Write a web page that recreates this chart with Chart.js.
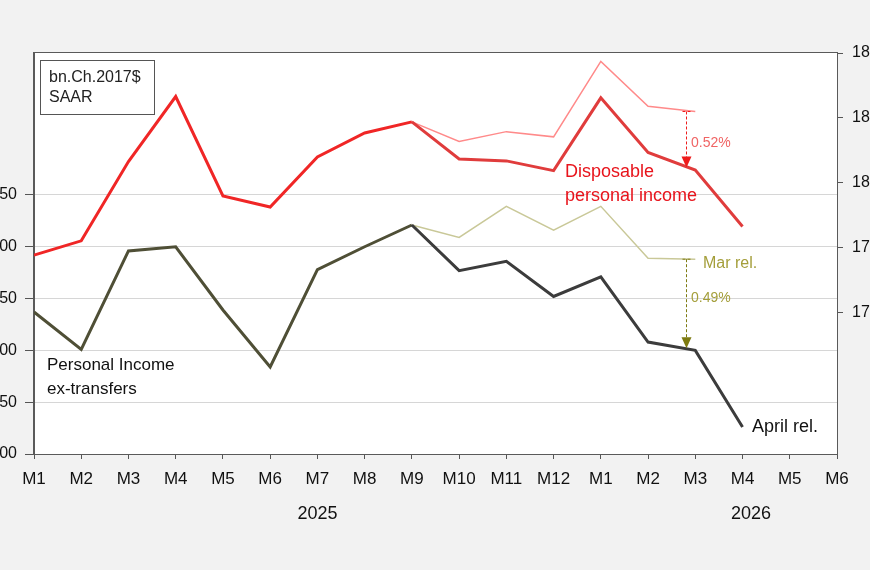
<!DOCTYPE html>
<html>
<head>
<meta charset="utf-8">
<script src="https://cdn.jsdelivr.net/npm/chart.js@4.4.1/dist/chart.umd.min.js"></script>
<style>
  html, body { margin: 0; padding: 0; background: #f2f2f2; overflow: hidden; }
  #frame { position: relative; width: 870px; height: 570px; overflow: hidden; }
  #wrap { position: absolute; left: -60px; top: 0; width: 990px; height: 570px; }
</style>
</head>
<body>
<div id="frame"><div id="wrap"><canvas id="incomeChart" width="990" height="570"></canvas></div></div>
<script>
// months Jan 2025 .. Jun 2026
const months = ['M1', 'M2', 'M3', 'M4', 'M5', 'M6', 'M7', 'M8', 'M9', 'M10', 'M11', 'M12',
                'M1', 'M2', 'M3', 'M4', 'M5', 'M6'];
const years = ['2025', '2026'];

// personal income ex-transfers, bn.Ch.2017$ SAAR (left axis)
const piAprRel = [17137, 17101, 17196, 17200, 17139, 17084, 17178, 17200, 17221, 17177, 17186, 17152,
                  17171, 17108, 17100, 17026, null, null];
const piMarRel = [null, null, null, null, null, null, null, null, 17221, 17209, 17239, 17216,
                  17239, 17189, 17188, null, null, null];

// disposable personal income, bn.Ch.2017$ SAAR (right axis)
const dpiAprRel = [17889, 17911, 18033, 18133, 17980, 17963, 18040, 18077, 18094, 18037, 18034, 18019,
                   18131, 18047, 18020, 17933, null, null];
const dpiMarRel = [null, null, null, null, null, null, null, null, 18094, 18064, 18079, 18071,
                   18187, 18118, 18110, null, null, null];

const leftTicks = [17000, 17050, 17100, 17150, 17200, 17250];
const rightTicks = [17800, 17900, 18000, 18100, 18200];

const FONT = "'Liberation Sans', Arial, sans-serif";
const OFF = 60; // canvas sits 60px left of the window

function early(ctx, a, b) {
    return ctx.p0DataIndex < 8 ? a : b;
}

// dashed revision arrow between two values of one axis
function drawArrow(ctx, x, y0, y1, color) {
    ctx.save();
    ctx.strokeStyle = color;
    ctx.fillStyle = color;
    ctx.lineWidth = 1;
    ctx.setLineDash([3, 2]);
    ctx.beginPath();
    ctx.moveTo(x - 4, y0);
    ctx.lineTo(x + 4, y0);
    ctx.moveTo(x, y0);
    ctx.lineTo(x, y1 - 9);
    ctx.stroke();
    ctx.setLineDash([]);
    ctx.beginPath();
    ctx.moveTo(x - 5, y1 - 11);
    ctx.lineTo(x + 5, y1 - 11);
    ctx.lineTo(x, y1);
    ctx.closePath();
    ctx.fill();
    ctx.restore();
}

function text(ctx, str, x, y, color, size) {
    ctx.fillStyle = color;
    ctx.font = size + 'px ' + FONT;
    ctx.fillText(str, x + OFF, y);
}

const decorations = {
    id: 'decorations',
    beforeDraw(chart) {
        const a = chart.chartArea, ctx = chart.ctx;
        ctx.save();
        ctx.fillStyle = '#ffffff';
        ctx.fillRect(a.left, a.top, a.right - a.left, a.bottom - a.top);
        ctx.restore();
    },
    afterDraw(chart) {
        const a = chart.chartArea, ctx = chart.ctx;
        const x = chart.scales.x, yl = chart.scales.yLeft, yr = chart.scales.yRight;
        ctx.save();
        // plot frame
        ctx.strokeStyle = '#5a5a5a';
        ctx.lineWidth = 1;
        ctx.strokeRect(Math.round(a.left) - 0.5, Math.round(a.top) - 0.5,
                       Math.round(a.right - a.left) + 1, Math.round(a.bottom - a.top) + 1);

        // year labels
        ctx.fillStyle = '#111';
        ctx.font = '18px ' + FONT;
        ctx.textAlign = 'center';
        ctx.textBaseline = 'middle';
        ctx.fillText(years[0], (x.getPixelForValue(0) + x.getPixelForValue(12)) / 2, 514);
        ctx.fillText(years[1], x.getPixelForValue(15.18), 514);

        // unit box
        ctx.textAlign = 'left';
        ctx.textBaseline = 'alphabetic';
        ctx.strokeStyle = '#555';
        ctx.strokeRect(40.5 + OFF, 60.5, 114, 54);
        text(ctx, 'bn.Ch.2017$', 49, 82, '#222', 16);
        text(ctx, 'SAAR', 49, 102, '#222', 16);

        // revision arrows
        const ax = Math.round(x.getPixelForValue(13.8)) + 0.5;
        drawArrow(ctx, ax, yr.getPixelForValue(18110), yr.getPixelForValue(18024), '#ee1c1c');
        drawArrow(ctx, ax, yl.getPixelForValue(17188), yl.getPixelForValue(17102), '#7d7a10');

        // series labels
        text(ctx, '0.52%', 691, 146.5, '#f06464', 14);
        text(ctx, 'Disposable', 565, 177, '#e8141c', 18);
        text(ctx, 'personal income', 565, 201, '#e8141c', 18);
        text(ctx, 'Mar rel.', 703, 268, '#a49e3a', 16);
        text(ctx, '0.49%', 691, 301.5, '#a49e3a', 14);
        text(ctx, 'Personal Income', 47, 370, '#111', 17);
        text(ctx, 'ex-transfers', 47, 394, '#111', 17);
        text(ctx, 'April rel.', 752, 432, '#111', 18);
        ctx.restore();
    }
};

new Chart(document.getElementById('incomeChart'), {
    type: 'line',
    data: {
        labels: months,
        datasets: [{
            label: 'Disposable personal income, April rel.',
            data: dpiAprRel,
            yAxisID: 'yRight',
            borderColor: '#e03c3c',
            borderWidth: 3,
            segment: { borderColor: ctx => early(ctx, '#f02626', '#e03c3c') },
            pointRadius: 0,
            order: 1
        }, {
            label: 'Personal income ex-transfers, April rel.',
            data: piAprRel,
            yAxisID: 'yLeft',
            borderColor: '#3c3c3c',
            borderWidth: 3,
            segment: { borderColor: ctx => early(ctx, '#4f4f36', '#3c3c3c') },
            pointRadius: 0,
            order: 2
        }, {
            label: 'Disposable personal income, Mar rel.',
            data: dpiMarRel,
            yAxisID: 'yRight',
            borderColor: '#ff8a8a',
            borderWidth: 1.5,
            pointRadius: 0,
            order: 3
        }, {
            label: 'Personal income ex-transfers, Mar rel.',
            data: piMarRel,
            yAxisID: 'yLeft',
            borderColor: '#c9c898',
            borderWidth: 1.5,
            pointRadius: 0,
            order: 4
        }]
    },
    options: {
        responsive: false,
        animation: false,
        layout: { padding: { top: 53, left: 0, right: 0, bottom: 0 } },
        plugins: {
            legend: { display: false },
            tooltip: { enabled: false }
        },
        scales: {
            x: {
                offset: false,
                grid: { drawOnChartArea: false, tickLength: 5, tickColor: '#555' },
                border: { color: '#5a5a5a' },
                ticks: {
                    autoSkip: false, maxRotation: 0, padding: 10,
                    color: '#111', font: { family: FONT, size: 17 }
                },
                afterFit: s => { s.height = 116; }
            },
            yLeft: {
                position: 'left',
                min: 17000,
                max: 17387,
                afterBuildTicks: axis => { axis.ticks = leftTicks.map(v => ({ value: v })); },
                grid: { color: '#d6d6d6', tickLength: 9, tickColor: '#555' },
                border: { color: '#5a5a5a' },
                ticks: {
                    padding: 8, color: '#111', font: { family: FONT, size: 16 },
                    callback: v => v.toLocaleString('en-US')
                },
                afterFit: s => { s.width = 94; }
            },
            yRight: {
                position: 'right',
                min: 17583,
                max: 18200,
                afterBuildTicks: axis => { axis.ticks = rightTicks.map(v => ({ value: v })); },
                grid: { drawOnChartArea: false, tickLength: 6, tickColor: '#555' },
                border: { color: '#5a5a5a' },
                ticks: {
                    padding: 9, color: '#111', font: { family: FONT, size: 16 },
                    callback: v => v.toLocaleString('en-US')
                },
                afterFit: s => { s.width = 93; }
            }
        }
    },
    plugins: [decorations]
});
</script>
</body>
</html>
